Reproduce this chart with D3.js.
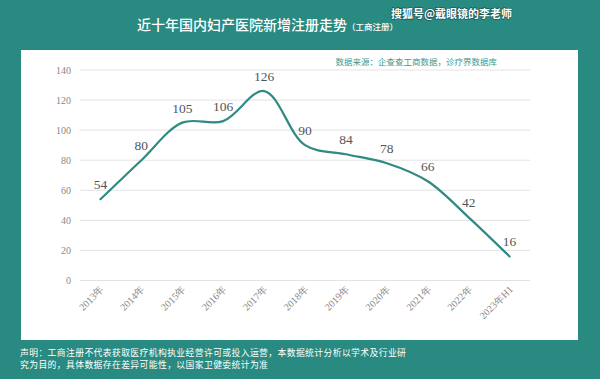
<!DOCTYPE html>
<html><head><meta charset="utf-8">
<script src="https://cdn.jsdelivr.net/npm/d3@7/dist/d3.min.js"></script>
<style>
html,body{margin:0;padding:0;background:#288a80;}
svg{display:block;}
</style></head>
<body>
<svg id="c" width="600" height="379"></svg>
<script>
const categories = ["2013年","2014年","2015年","2016年","2017年","2018年","2019年","2020年","2021年","2022年","2023年H1"];
const values = [54,80,105,106,126,90,84,78,66,42,16];
const yTicks = [0,20,40,60,80,100,120,140];
const title = "近十年国内妇产医院新增注册走势";
const subtitle = "（工商注册）";
const source = "数据来源：企查查工商数据，诊疗界数据库";
const watermark = "搜狐号@戴眼镜的李老师";
const notes = ["声明：工商注册不代表获取医疗机构执业经营许可或投入运营，本数据统计分析以学术及行业研",
               "究为目的，具体数据存在差异可能性，以国家卫健委统计为准"];

const svg = d3.select("#c");
const cjk = "'Noto Sans CJK SC','Noto Sans',sans-serif";
const serif = "'Liberation Serif','DejaVu Serif',serif";

svg.append("rect").attr("width",600).attr("height",379).attr("fill","#288a80");
svg.append("rect").attr("x",21).attr("y",50).attr("width",557).attr("height",290).attr("fill","#ffffff");

// title
const t = svg.append("text").attr("x",137).attr("y",30).attr("fill","#ffffff")
  .style("font-family",cjk).style("font-size","14px").style("font-weight",500);
t.append("tspan").text(title);
t.append("tspan").style("font-size","8.5px").text(subtitle);

// watermark
svg.append("text").attr("x",512).attr("y",18).attr("text-anchor","end").attr("fill","#ffffff")
  .style("font-family",cjk).style("font-size","11px").style("font-weight",700)
  .style("paint-order","stroke").attr("stroke","rgba(0,0,0,0.35)").attr("stroke-width",1.5)
  .text(watermark);

// source
svg.append("text").attr("x",497).attr("y",65).attr("text-anchor","end").attr("fill","#3d9a8e")
  .style("font-family",cjk).style("font-size","8.5px").text(source);

const x = d3.scaleBand().domain(categories).range([80,530]);
const y = d3.scaleLinear().domain([0,140]).range([280.5,70]);

// gridlines
svg.append("g").selectAll("line").data(yTicks).join("line")
  .attr("x1",80).attr("x2",530).attr("y1",d=>y(d)).attr("y2",d=>y(d))
  .attr("stroke","#e3e3e3").attr("stroke-width",1);

// y labels
svg.append("g").selectAll("text").data(yTicks).join("text")
  .attr("x",71).attr("y",d=>y(d)+3.5).attr("text-anchor","end").attr("fill","#888")
  .style("font-family",serif).style("font-size","10px").text(d=>d);

// x labels
svg.append("g").selectAll("text").data(categories).join("text")
  .attr("transform",d=>`translate(${x(d)+x.bandwidth()/2+4},${290}) rotate(-45)`)
  .attr("text-anchor","end").attr("fill","#888")
  .style("font-family",serif).style("font-size","10px").text(d=>d);

const cx = d => x(d)+x.bandwidth()/2;
const line = d3.line().x((d,i)=>cx(categories[i])).y(d=>y(d)).curve(d3.curveCatmullRom.alpha(0.5));
svg.append("path").datum(values).attr("d",line).attr("fill","none")
  .attr("stroke","#2f8a82").attr("stroke-width",2.2).attr("stroke-linecap","round");

// data labels
svg.append("g").selectAll("text").data(values).join("text")
  .attr("x",(d,i)=>cx(categories[i])).attr("y",d=>y(d)-10).attr("text-anchor","middle")
  .attr("fill","#555").style("font-family",serif).style("font-size","13.5px").text(d=>d);

// notes
svg.append("g").selectAll("text").data(notes).join("text")
  .attr("x",20).attr("y",(d,i)=>356+i*12).attr("fill","#ffffff")
  .style("font-family",cjk).style("font-size","8.8px").style("letter-spacing","0.4px").text(d=>d);
</script>
</body></html>
